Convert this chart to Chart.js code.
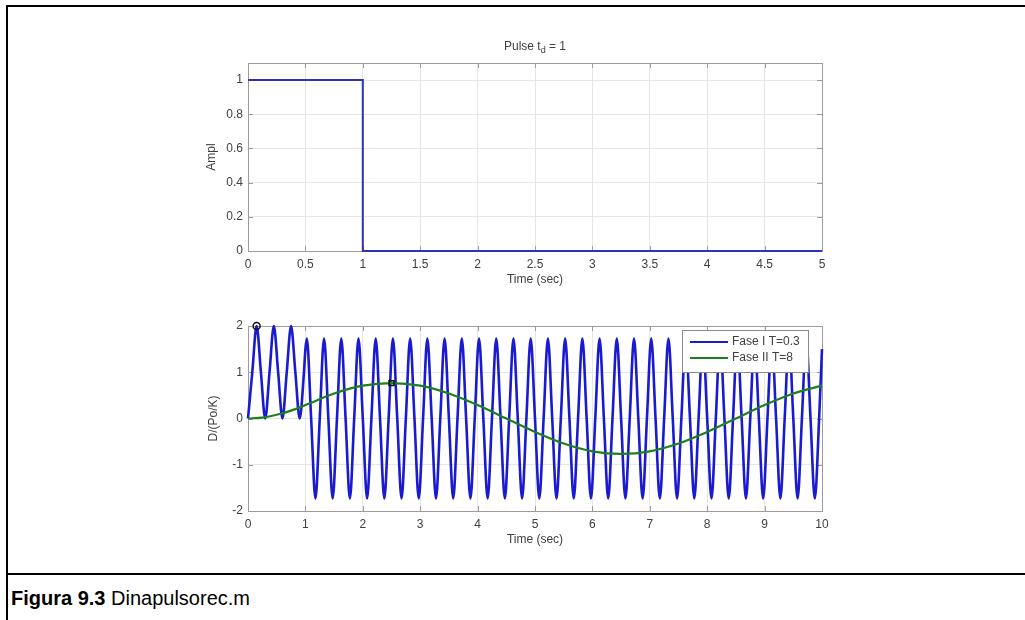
<!DOCTYPE html>
<html>
<head>
<meta charset="utf-8">
<script src="https://cdn.jsdelivr.net/npm/chart.js@4.4.1/dist/chart.umd.min.js"></script>
<style>
  html, body { margin: 0; padding: 0; background: #fff; }
  body { width: 1025px; height: 620px; position: relative; overflow: hidden;
         font-family: "Liberation Sans", Arial, Helvetica, sans-serif; }
  .rule { position: absolute; background: #000; }
  #ruleTop  { left: 6px; top: 5px;   width: 1019px; height: 2px; }
  #ruleLeft { left: 6px; top: 5px;   width: 2px;    height: 615px; }
  #ruleSep  { left: 6px; top: 573px; width: 1019px; height: 2px; }
  #caption { position: absolute; left: 11px; top: 588px; font-size: 20px; line-height: 20px; color: #000; white-space: nowrap; }
  canvas { position: absolute; left: 0; filter: blur(0.4px); }
  #pulseChart { top: 0; }
  #respChart { top: 300px; }
</style>
</head>
<body>
<div class="rule" id="ruleTop"></div>
<div class="rule" id="ruleLeft"></div>
<div class="rule" id="ruleSep"></div>
<canvas id="pulseChart" width="1025" height="300"></canvas>
<canvas id="respChart" width="1025" height="270"></canvas>
<div id="caption"><b>Figura 9.3</b> Dinapulsorec.m</div>

<script>
// ---- Rectangular pulse, t_d = 1 ----
const pulseT = [0, 1, 1, 5];
const pulseA = [1, 1, 0, 0];
const pulseXTicks = [0, 0.5, 1, 1.5, 2, 2.5, 3, 3.5, 4, 4.5, 5];
const pulseYTicks = [0, 0.2, 0.4, 0.6, 0.8, 1];

// ---- Response D/(Po/K), Fase I (T = 0.3) ----
const blueT = [
  0, 0.075, 0.15, 0.225, 0.3, 0.375, 0.45, 0.525, 0.6, 0.675, 0.75, 0.825, 0.9, 0.975, 1,
  1.025, 1.1, 1.175, 1.25,  1.325, 1.4, 1.475, 1.55,  1.625, 1.7, 1.775, 1.85,
  1.925, 2, 2.075, 2.15,    2.225, 2.3, 2.375, 2.45,  2.525, 2.6, 2.675, 2.75,
  2.825, 2.9, 2.975, 3.05,  3.125, 3.2, 3.275, 3.35,  3.425, 3.5, 3.575, 3.65,
  3.725, 3.8, 3.875, 3.95,  4.025, 4.1, 4.175, 4.25,  4.325, 4.4, 4.475, 4.55,
  4.625, 4.7, 4.775, 4.85,  4.925, 5, 5.075, 5.15,    5.225, 5.3, 5.375, 5.45,
  5.525, 5.6, 5.675, 5.75,  5.825, 5.9, 5.975, 6.05,  6.125, 6.2, 6.275, 6.35,
  6.425, 6.5, 6.575, 6.65,  6.725, 6.8, 6.875, 6.95,  7.025, 7.1, 7.175, 7.25,
  7.325, 7.4, 7.475, 7.55,  7.625, 7.7, 7.775, 7.85,  7.925, 8, 8.075, 8.15,
  8.225, 8.3, 8.375, 8.45,  8.525, 8.6, 8.675, 8.75,  8.825, 8.9, 8.975, 9.05,
  9.125, 9.2, 9.275, 9.35,  9.425, 9.5, 9.575, 9.65,  9.725, 9.8, 9.875, 9.95,
  10
];
const blueD = [
  0, 1, 2, 1, 0, 1, 2, 1, 0, 1, 2, 1, 0, 1, 1.5,
  1.73, 0, -1.73, 0,  1.73, 0, -1.73, 0,  1.73, 0, -1.73, 0,
  1.73, 0, -1.73, 0,  1.73, 0, -1.73, 0,  1.73, 0, -1.73, 0,
  1.73, 0, -1.73, 0,  1.73, 0, -1.73, 0,  1.73, 0, -1.73, 0,
  1.73, 0, -1.73, 0,  1.73, 0, -1.73, 0,  1.73, 0, -1.73, 0,
  1.73, 0, -1.73, 0,  1.73, 0, -1.73, 0,  1.73, 0, -1.73, 0,
  1.73, 0, -1.73, 0,  1.73, 0, -1.73, 0,  1.73, 0, -1.73, 0,
  1.73, 0, -1.73, 0,  1.73, 0, -1.73, 0,  1.73, 0, -1.73, 0,
  1.73, 0, -1.73, 0,  1.73, 0, -1.73, 0,  1.73, 0, -1.73, 0,
  1.73, 0, -1.73, 0,  1.73, 0, -1.73, 0,  1.73, 0, -1.73, 0,
  1.73, 0, -1.73, 0,  1.73, 0, -1.73, 0,  1.73, 0, -1.73, 0,
  1.5
];

// ---- Response D/(Po/K), Fase II (T = 8) ----
const greenT = [0, 0.25, 0.5, 0.75, 1, 1.5, 2, 2.5, 3, 3.5, 4, 4.5, 5, 5.5, 6, 6.5, 7, 7.5, 8, 8.5, 9, 9.5, 10];
const greenD = [0, 0.02, 0.08, 0.17, 0.29, 0.54, 0.71, 0.765, 0.71, 0.54, 0.29, 0, -0.29, -0.54, -0.71, -0.765, -0.71, -0.54, -0.29, 0, 0.29, 0.54, 0.71];

const respXTicks = [0, 1, 2, 3, 4, 5, 6, 7, 8, 9, 10];
const respYTicks = [-2, -1, 0, 1, 2];

const seriesNames = ['Fase I T=0.3', 'Fase II T=8'];

// ---- styling ----
const FONT = '"Liberation Sans", Arial, Helvetica, sans-serif';
const TEXT = '#404040';
const BOX = '#9c9c9c';
const GRID = '#e6e6e6';
const BLUE = '#1a1ad0';
const BLUE_PULSE = '#3030b8';
const GREEN = '#1f7f1f';

const toXY = (xs, ys) => xs.map((x, i) => ({ x: x, y: ys[i] }));

// position of the first maximum of a series, used for the peak markers
function firstPeak(xs, ys) {
  let k = 0;
  for (let i = 1; i < ys.length; i++) if (ys[i] > ys[k]) k = i;
  return { x: xs[k], y: ys[k] };
}

function fixedTicks(list) {
  return (scale) => { scale.ticks = list.map(v => ({ value: v })); };
}

// axis box, inward tick marks, titles and labels in the style of a MATLAB figure
const matlabAxes = {
  id: 'matlabAxes',
  beforeDatasetsDraw(chart) {
    const { ctx, chartArea: a, scales } = chart;
    ctx.save();
    ctx.strokeStyle = BOX;
    ctx.lineWidth = 1;
    ctx.beginPath();
    const L = 5;
    scales.x.ticks.forEach(t => {
      const px = Math.round(scales.x.getPixelForValue(t.value)) + 0.5;
      ctx.moveTo(px, a.bottom); ctx.lineTo(px, a.bottom - L);
      ctx.moveTo(px, a.top); ctx.lineTo(px, a.top + L);
    });
    scales.y.ticks.forEach(t => {
      const py = Math.round(scales.y.getPixelForValue(t.value)) + 0.5;
      ctx.moveTo(a.left, py); ctx.lineTo(a.left + L, py);
      ctx.moveTo(a.right, py); ctx.lineTo(a.right - L, py);
    });
    ctx.stroke();
    ctx.strokeRect(Math.round(a.left) + 0.5, Math.round(a.top) + 0.5,
                   Math.round(a.right - a.left), Math.round(a.bottom - a.top));
    ctx.restore();
  },
  afterDraw(chart, args, opts) {
    const { ctx, chartArea: a } = chart;
    const cx = (a.left + a.right) / 2;
    ctx.save();
    ctx.fillStyle = TEXT;
    ctx.font = '12px ' + FONT;
    ctx.textBaseline = 'middle';
    // x label
    ctx.textAlign = 'center';
    ctx.fillText(opts.xLabel, cx, a.bottom + 29);
    // y label
    ctx.save();
    ctx.translate(opts.yLabelX, (a.top + a.bottom) / 2);
    ctx.rotate(-Math.PI / 2);
    ctx.fillText(opts.yLabel, 0, 0);
    ctx.restore();
    // title with subscript
    if (opts.title) {
      const [main, sub, rest] = opts.title;
      ctx.font = '12px ' + FONT;
      const w1 = ctx.measureText(main).width;
      const w3 = ctx.measureText(rest).width;
      ctx.font = '9px ' + FONT;
      const w2 = ctx.measureText(sub).width;
      let x = cx - (w1 + w2 + w3) / 2;
      const y = a.top - 16;
      ctx.textAlign = 'left';
      ctx.font = '12px ' + FONT;
      ctx.fillText(main, x, y); x += w1;
      ctx.font = '9px ' + FONT;
      ctx.fillText(sub, x, y + 4); x += w2;
      ctx.font = '12px ' + FONT;
      ctx.fillText(rest, x, y);
    }
    // legend box
    if (opts.legend) {
      const lg = opts.legend;
      const bx = a.right - 140, by = a.top + 4, bw = 126, bh = 42;
      ctx.fillStyle = '#fff';
      ctx.fillRect(bx, by, bw, bh);
      ctx.strokeStyle = '#8a8a8a';
      ctx.lineWidth = 1;
      ctx.strokeRect(bx + 0.5, by + 0.5, bw, bh);
      lg.forEach((item, i) => {
        const y = by + 12 + i * 16;
        ctx.strokeStyle = item.color;
        ctx.lineWidth = 2;
        ctx.beginPath();
        ctx.moveTo(bx + 8, y); ctx.lineTo(bx + 46, y);
        ctx.stroke();
        ctx.fillStyle = TEXT;
        ctx.font = '12px ' + FONT;
        ctx.textAlign = 'left';
        ctx.fillText(item.text, bx + 50, y);
      });
    }
    ctx.restore();
  }
};

function axisOptions(xTicks, yTicks, yMin, yMax, xMax, canvasH, plotBottom) {
  const tickFont = { family: FONT, size: 12 };
  return {
    x: {
      type: 'linear', min: 0, max: xMax,
      afterBuildTicks: fixedTicks(xTicks),
      afterFit: (s) => { s.height = canvasH - plotBottom; },
      grid: { color: GRID, lineWidth: 1, drawTicks: false },
      border: { display: false },
      ticks: { font: tickFont, color: TEXT, padding: 6, maxRotation: 0, autoSkip: false,
               callback: (v) => String(v) }
    },
    y: {
      type: 'linear', min: yMin, max: yMax,
      afterBuildTicks: fixedTicks(yTicks),
      afterFit: (s) => { s.width = 248; },
      grid: { color: GRID, lineWidth: 1, drawTicks: false },
      border: { display: false },
      ticks: { font: tickFont, color: TEXT, padding: 5, autoSkip: false,
               callback: (v) => String(v) }
    }
  };
}

const common = {
  responsive: false,
  animation: false,
  devicePixelRatio: 1,
  plugins: { legend: { display: false }, tooltip: { enabled: false } },
  elements: { point: { radius: 0 } }
};

new Chart(document.getElementById('pulseChart'), {
  type: 'line',
  data: {
    datasets: [{
      data: toXY(pulseT, pulseA),
      borderColor: BLUE_PULSE, borderWidth: 2, tension: 0, clip: 4,
      borderJoinStyle: 'miter'
    }]
  },
  options: Object.assign({}, common, {
    layout: { padding: { left: 0, right: 203, top: 63, bottom: 0 } },
    scales: axisOptions(pulseXTicks, pulseYTicks, 0, 1.1, 5, 300, 251),
    plugins: Object.assign({}, common.plugins, {
      matlabAxes: { xLabel: 'Time (sec)', yLabel: 'Ampl', yLabelX: 212, title: ['Pulse t', 'd', ' = 1'] }
    })
  }),
  plugins: [matlabAxes]
});

const bluePeak = firstPeak(blueT, blueD);
const greenPeak = firstPeak(greenT, greenD);

new Chart(document.getElementById('respChart'), {
  type: 'line',
  data: {
    datasets: [
      {
        label: 'peaks',
        data: [bluePeak, greenPeak],
        showLine: false,
        pointRadius: 3.5, pointBorderWidth: 1.5,
        pointBorderColor: '#111', pointBackgroundColor: 'rgba(0,0,0,0)',
        pointStyle: ['circle', 'rect'],
        clip: 8, order: 0
      },
      {
        label: seriesNames[1],
        data: toXY(greenT, greenD),
        borderColor: GREEN, borderWidth: 2.2,
        cubicInterpolationMode: 'monotone', clip: 4, order: 1
      },
      {
        label: seriesNames[0],
        data: toXY(blueT, blueD),
        borderColor: BLUE, borderWidth: 2.6, borderJoinStyle: 'round',
        cubicInterpolationMode: 'monotone', clip: 4, order: 2
      }
    ]
  },
  options: Object.assign({}, common, {
    layout: { padding: { left: 0, right: 203, top: 26, bottom: 0 } },
    scales: axisOptions(respXTicks, respYTicks, -2, 2, 10, 270, 211),
    plugins: Object.assign({}, common.plugins, {
      matlabAxes: {
        xLabel: 'Time (sec)', yLabel: 'D/(Po/K)', yLabelX: 214,
        legend: [{ text: seriesNames[0], color: BLUE }, { text: seriesNames[1], color: GREEN }]
      }
    })
  }),
  plugins: [matlabAxes]
});
</script>
</body>
</html>
